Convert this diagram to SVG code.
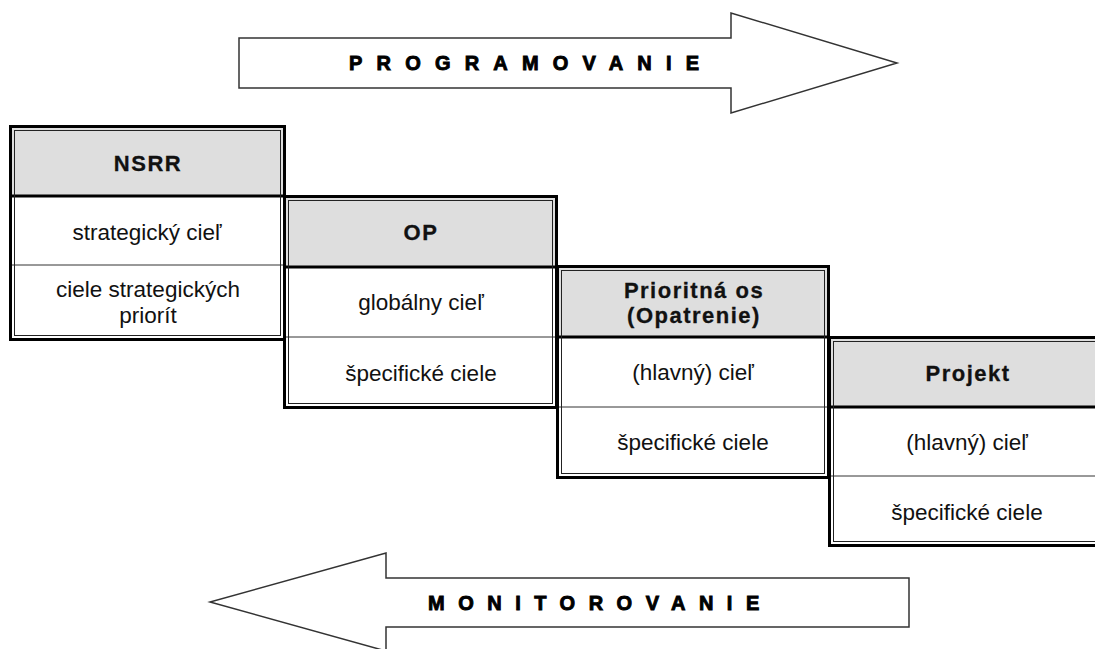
<svg xmlns="http://www.w3.org/2000/svg" width="1095" height="649" viewBox="0 0 1095 649">
<style>
.bg{fill:#ffffff}
.hdr{fill:#dedede;stroke:none}
.cell{fill:#ffffff;stroke:none}
.outer{fill:none;stroke:#000;stroke-width:3}
.inner{fill:none;stroke:#222;stroke-width:1}
.hdiv{stroke:#000;stroke-width:3}
.rdiv{stroke:#333;stroke-width:1}
.t{font-family:"Liberation Sans",Arial,sans-serif;font-size:22.5px;fill:#111;text-anchor:middle}
.h{font-family:"Liberation Sans",Arial,sans-serif;font-size:22px;font-weight:bold;fill:#111;stroke:#111;stroke-width:0.3;text-anchor:middle;letter-spacing:1.5px}
.arrow{fill:#fff;stroke:#333;stroke-width:1.5}
.at{font-family:"Liberation Sans",Arial,sans-serif;font-size:20px;font-weight:bold;fill:#000;stroke:#000;stroke-width:0.9}
</style>
<rect class="bg" x="0" y="0" width="1095" height="649"/>

<g id="connectors">
  <g id="arrow-programovanie">
    <polygon class="arrow" points="239,38 731,38 731,13 897,63 731,113 731,88 239,88"/>
    <text class="at" x="349" y="70" letter-spacing="14.2">PROGRAMOVANIE</text>
  </g>
  <g id="arrow-monitorovanie">
    <polygon class="arrow" points="909,578 386,578 386,553 210,602 386,651 386,627 909,627"/>
    <text class="at" x="428" y="610" letter-spacing="13.5">MONITOROVANIE</text>
  </g>
</g>

<g id="node-nsrr">
  <rect class="hdr" x="10" y="126" width="275" height="70"/>
  <rect class="cell" x="10" y="196" width="275" height="144"/>
  <line class="rdiv" x1="10" y1="265" x2="285" y2="265"/>
  <line class="hdiv" x1="10" y1="196" x2="285" y2="196"/>
  <rect class="inner" x="14.5" y="130.5" width="266" height="205"/>
  <rect class="outer" x="10.5" y="126.5" width="274" height="213"/>
  <text class="h" x="148" y="171">NSRR</text>
  <text class="t" x="147" y="240">strategický cieľ</text>
  <text class="t" x="148" y="297">ciele strategických</text>
  <text class="t" x="148" y="323">priorít</text>
</g>

<g id="node-op">
  <rect class="hdr" x="284" y="196" width="273" height="71"/>
  <rect class="cell" x="284" y="267" width="273" height="141"/>
  <line class="rdiv" x1="284" y1="337" x2="557" y2="337"/>
  <line class="hdiv" x1="284" y1="267" x2="557" y2="267"/>
  <rect class="inner" x="288.5" y="200.5" width="264" height="203"/>
  <rect class="outer" x="284.5" y="196.5" width="272" height="211"/>
  <text class="h" x="421" y="240">OP</text>
  <text class="t" x="421" y="310">globálny cieľ</text>
  <text class="t" x="421" y="381">špecifické ciele</text>
</g>

<g id="node-prioritna-os">
  <rect class="hdr" x="557" y="266" width="272" height="71"/>
  <rect class="cell" x="557" y="337" width="272" height="141"/>
  <line class="rdiv" x1="557" y1="407" x2="829" y2="407"/>
  <line class="hdiv" x1="557" y1="337" x2="829" y2="337"/>
  <rect class="inner" x="561.5" y="270.5" width="263" height="203"/>
  <rect class="outer" x="557.5" y="266.5" width="271" height="211"/>
  <text class="h" x="694" y="298">Prioritná os</text>
  <text class="h" x="694" y="323">(Opatrenie)</text>
  <text class="t" x="693" y="380">(hlavný) cieľ</text>
  <text class="t" x="693" y="450">špecifické ciele</text>
</g>

<g id="node-projekt">
  <rect class="hdr" x="829" y="337" width="280" height="70"/>
  <rect class="cell" x="829" y="407" width="280" height="139"/>
  <line class="rdiv" x1="829" y1="476" x2="1109" y2="476"/>
  <line class="hdiv" x1="829" y1="407" x2="1109" y2="407"/>
  <rect class="inner" x="833.5" y="341.5" width="270" height="200"/>
  <rect class="outer" x="829.5" y="337.5" width="278" height="208"/>
  <text class="h" x="968" y="381">Projekt</text>
  <text class="t" x="967" y="450">(hlavný) cieľ</text>
  <text class="t" x="967" y="520">špecifické ciele</text>
</g>
</svg>
